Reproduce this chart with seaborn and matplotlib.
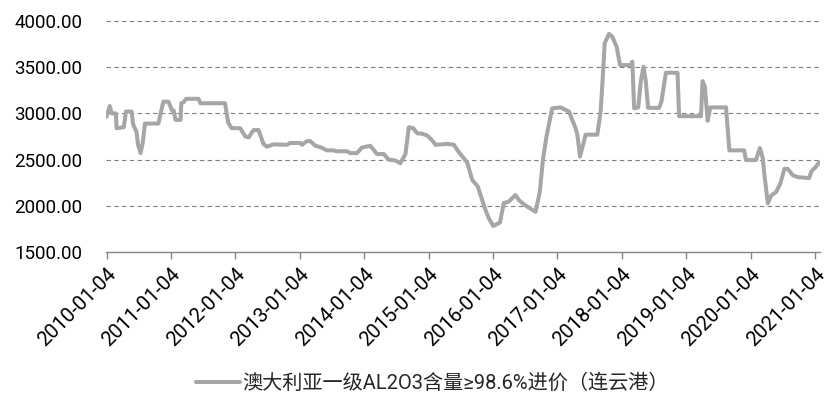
import matplotlib
matplotlib.use("Agg")
import matplotlib.pyplot as plt
import matplotlib.transforms as mtransforms
import seaborn as sns
import pandas as pd

series_name = "澳大利亚一级AL2O3含量≥98.6%进价（连云港）"

dates = [
    "2010-01-04", "2010-01-22", "2010-02-02", "2010-02-26", "2010-03-02", "2010-04-12",
    "2010-04-24", "2010-05-26", "2010-06-04", "2010-06-23", "2010-07-02", "2010-07-16",
    "2010-07-28", "2010-08-10", "2010-10-25", "2010-11-22", "2010-12-21", "2011-01-11",
    "2011-01-20", "2011-01-30", "2011-02-28", "2011-03-04", "2011-03-17", "2011-03-31",
    "2011-06-10", "2011-06-20", "2011-11-07", "2011-11-25", "2011-12-15", "2012-02-01",
    "2012-03-01", "2012-03-20", "2012-04-17", "2012-05-15", "2012-06-12", "2012-07-01",
    "2012-08-08", "2012-10-23", "2012-11-11", "2013-01-07", "2013-01-16", "2013-02-14",
    "2013-03-05", "2013-04-02", "2013-04-30", "2013-06-07", "2013-07-14", "2013-08-02",
    "2013-09-28", "2013-10-17", "2013-11-24", "2013-12-22", "2014-02-08", "2014-03-18",
    "2014-04-25", "2014-05-23", "2014-06-30", "2014-07-28", "2014-08-26", "2014-09-14",
    "2014-10-09", "2014-11-01", "2014-11-29", "2014-12-28", "2015-01-26", "2015-02-13",
    "2015-04-20", "2015-05-28", "2015-06-25", "2015-08-11", "2015-09-09", "2015-10-10",
    "2015-11-04", "2015-11-23", "2015-12-12", "2016-01-06", "2016-02-13", "2016-03-06",
    "2016-04-03", "2016-05-11", "2016-05-30", "2016-07-01", "2016-08-04", "2016-09-02",
    "2016-09-26", "2016-10-15", "2016-11-03", "2016-12-05", "2017-01-22", "2017-03-10",
    "2017-04-17", "2017-04-27", "2017-05-12", "2017-06-13", "2017-08-18", "2017-09-06",
    "2017-09-16", "2017-09-29", "2017-10-23", "2017-11-11", "2017-12-06", "2017-12-25",
    "2018-02-24", "2018-03-05", "2018-03-15", "2018-04-07", "2018-04-22", "2018-05-07",
    "2018-05-20", "2018-06-02", "2018-08-04", "2018-08-17", "2018-09-11", "2018-11-16",
    "2018-11-25", "2019-03-29", "2019-04-07", "2019-04-20", "2019-05-06", "2019-05-21",
    "2019-08-18", "2019-09-06", "2019-11-29", "2019-12-09", "2020-02-04", "2020-02-26",
    "2020-03-13", "2020-03-23", "2020-04-11", "2020-04-30", "2020-05-28", "2020-06-21",
    "2020-07-14", "2020-08-02", "2020-08-31", "2020-09-28", "2020-12-01", "2020-12-15",
    "2021-01-08", "2021-01-27",
]

prices = [
    2964, 3080, 3000, 3000, 2840, 2850,
    3020, 3020, 2880, 2800, 2660, 2570,
    2680, 2890, 2890, 3127, 3127, 3030,
    3030, 2930, 2930, 3110, 3120, 3158,
    3158, 3110, 3110, 2900, 2840, 2840,
    2750, 2740, 2820, 2820, 2670, 2640,
    2665, 2660, 2680, 2680, 2660, 2700,
    2700, 2650, 2635, 2600, 2600, 2590,
    2590, 2570, 2570, 2630, 2650, 2560,
    2560, 2500, 2490, 2460, 2560, 2850,
    2840, 2785, 2780, 2760, 2705, 2660,
    2670, 2660, 2580, 2470, 2280, 2210,
    2063, 1955, 1865, 1782, 1818, 2030,
    2045, 2117, 2063, 2010, 1970, 1935,
    2150, 2518, 2750, 3055, 3065, 3020,
    2840, 2770, 2533, 2770, 2770, 3020,
    3325, 3758, 3860, 3830, 3720, 3523,
    3523, 3560, 3055, 3065, 3350, 3505,
    3350, 3060, 3060, 3130, 3440, 3440,
    2970, 2970, 3350, 3290, 2920, 3065,
    3065, 2600, 2600, 2495, 2495, 2625,
    2520, 2333, 2027, 2110, 2150, 2240,
    2400, 2400, 2330, 2310, 2300, 2375,
    2420, 2470,
]

x_tick_labels = ["2010-01-04", "2011-01-04", "2012-01-04", "2013-01-04", "2014-01-04",
                 "2015-01-04", "2016-01-04", "2017-01-04", "2018-01-04", "2019-01-04",
                 "2020-01-04", "2021-01-04"]
y_ticks = [1500, 2000, 2500, 3000, 3500, 4000]

df = pd.DataFrame({"date": pd.to_datetime(dates), "price": prices, "series": series_name})

sns.set_theme(style="white")
plt.rcParams["font.family"] = ["Roboto", "Noto Sans CJK SC", "DejaVu Sans"]

fig = plt.figure(figsize=(8.37, 4.0), dpi=100)
ax = fig.add_axes([106 / 837, (400 - 252) / 400, (820 - 106) / 837, 231 / 400])

sns.lineplot(data=df, x="date", y="price", hue="series", palette=["#A6A6A6"],
             linewidth=2.9, ax=ax, legend=False, estimator=None)

ax.set_ylim(1500, 4000)
ax.set_xlim(pd.Timestamp("2010-01-01"), pd.Timestamp("2021-02-01"))
ax.set_yticks(y_ticks)
ax.set_yticklabels([f"{v:.2f}" for v in y_ticks], fontsize=13.5, color="#000000")
ax.set_xticks(pd.to_datetime(x_tick_labels))
ax.set_xticklabels(x_tick_labels, rotation=45, ha="right", va="top",
                   rotation_mode="anchor", fontsize=14.5, color="#000000")
shift = mtransforms.ScaledTranslation(-5 / 100, 0, fig.dpi_scale_trans)
for lbl in ax.get_xticklabels():
    lbl.set_transform(lbl.get_transform() + shift)

ax.set_xlabel("")
ax.set_ylabel("")
for y in y_ticks[1:]:
    ax.axhline(y, color="#7F7F7F", linewidth=0.8, linestyle=(0, (4, 3)), zorder=0)

for side in ["left", "right", "top"]:
    ax.spines[side].set_visible(False)
ax.spines["bottom"].set_color("#868686")
ax.spines["bottom"].set_linewidth(1.0)
ax.tick_params(axis="x", which="major", length=5, width=1.0, color="#868686",
               direction="out", bottom=True, pad=4)
ax.tick_params(axis="y", length=0, pad=17)

handle = plt.Line2D([], [], color="#A6A6A6", linewidth=2.9)
fig.legend([handle], [series_name], loc="center", bbox_to_anchor=(432 / 837, 1 - 383 / 400),
           frameon=False, fontsize=14.5, handlelength=2.2, handletextpad=0.1,
           borderaxespad=0)

fig.savefig("out.png", dpi=100, facecolor="white")
